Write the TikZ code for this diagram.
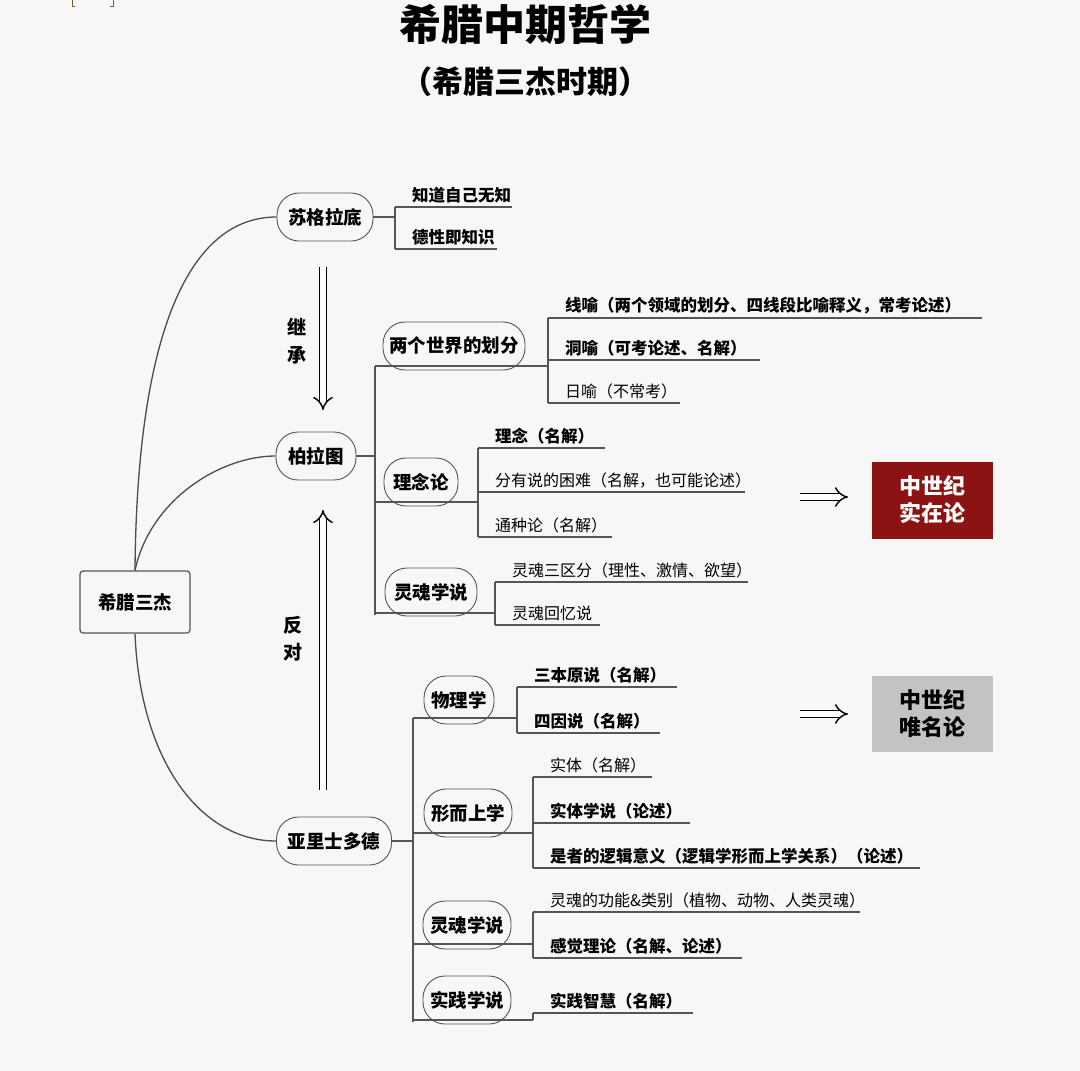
\documentclass[tikz,border=0pt]{standalone}
\usepackage{fontspec}
\setmainfont{Noto Sans CJK SC}
\usetikzlibrary{arrows.meta}
\definecolor{bg}{HTML}{F7F7F7}
\definecolor{ln}{HTML}{555555}
\definecolor{dred}{HTML}{8C1313}
\definecolor{gbox}{HTML}{C3C3C3}
\tikzset{
  pill/.style={draw=ln, line width=0.9pt, rounded corners=22pt, minimum height=48pt, font=\fontsize{18.5}{18}\selectfont\bfseries, inner xsep=6pt},
  br/.style={draw=ln, line width=1.1pt},
  lf/.style={anchor=south west, inner sep=1pt, font=\fontsize{16}{16}\selectfont},
  lfb/.style={lf, font=\fontsize{16.5}{16}\selectfont\bfseries},
  curve/.style={draw=ln!90!black, line width=1.3pt},
  dbl/.style={draw=black, double=white, double distance=5.5pt, line width=1.4pt, -{Implies[length=7pt,width=13pt]}},
  vt/.style={font=\fontsize{19}{19}\selectfont\bfseries},
}
\newcommand{\leafline}[5]{% bracket x, y, xend, style, text
  \draw[br] (#1,#2) -- (#3,#2);
  \node[#4] at (#1+16,#2-3) {#5};}
\begin{document}
\begin{tikzpicture}[x=1pt,y=-1pt]
\fill[bg] (0,0) rectangle (1080,1071);
\useasboundingbox (0,0) rectangle (1080,1071);
% corner marks
\draw[brown!70!black, line width=1pt] (72,0) -- (72,6) -- (75,6) (113,0) -- (113,6) -- (110,6);
% titles
\node (title) at (525,24) {\fontsize{42}{42}\selectfont\bfseries 希腊中期哲学};
\node (sub) at (525,82) {\fontsize{31}{31}\selectfont\bfseries （希腊三杰时期）};
% root
\node[draw=ln, line width=1.2pt, rounded corners=3pt, minimum width=110pt, minimum height=62pt, font=\fontsize{18.5}{18}\selectfont\bfseries] (root) at (135,602) {希腊三杰};
% level 1
\node[pill, minimum width=96pt] (soc) at (325,217) {苏格拉底};
\node[pill, minimum width=80pt] (pla) at (316,456) {柏拉图};
\node[pill, minimum width=115pt] (ari) at (334,841) {亚里士多德};
\draw[curve] (root.north) .. controls (137,330) and (190,217) .. (soc.west);
\draw[curve] (root.north) .. controls (150,500) and (220,456) .. (pla.west);
\draw[curve] (root.south) .. controls (140,760) and (200,841) .. (ari.west);
% inheritance arrows
\draw[dbl] (323,267) -- (323,410);
\node[vt] (j1) at (297,327) {继};
\node[vt] (j2) at (297,355) {承};
\draw[dbl] (323,790) -- (323,510);
\node[vt] (f1) at (293,625) {反};
\node[vt] (f2) at (293,652) {对};
% Socrates
\draw[br] (soc.east) -- (395,217);
\draw[br] (395,207) -- (395,249);
\leafline{395}{207}{512}{lfb}{知道自己无知}
\leafline{395}{249}{497}{lfb}{德性即知识}
% Plato
\draw[br] (pla.east) -- (375,456);
\draw[br] (375,366) -- (375,615);
\node[pill, minimum width=142pt] (p1) at (454,346) {两个世界的划分};
\node[pill, minimum width=74pt] (p2) at (421,482) {理念论};
\node[pill, minimum width=92pt] (p3) at (431,592) {灵魂学说};
\draw[br] (375,366) -- (548,366); \draw[br] (548,318) -- (548,403);
\leafline{548}{318}{982}{lfb}{线喻（两个领域的划分、四线段比喻释义，常考论述）}
\leafline{548}{360}{760}{lfb}{洞喻（可考论述、名解）}
\leafline{548}{403}{680}{lf}{日喻（不常考）}
\draw[br] (375,502) -- (478,502); \draw[br] (478,448) -- (478,537);
\leafline{478}{448}{605}{lfb}{理念（名解）}
\leafline{478}{492}{745}{lf}{分有说的困难（名解，也可能论述）}
\leafline{478}{537}{612}{lf}{通种论（名解）}
\draw[br] (375,613) -- (495,613); \draw[br] (495,582) -- (495,625);
\leafline{495}{582}{748}{lf}{灵魂三区分（理性、激情、欲望）}
\leafline{495}{625}{600}{lf}{灵魂回忆说}
% Aristotle
\draw[br] (ari.east) -- (413,841);
\draw[br] (413,718) -- (413,1022);
\node[pill, minimum width=70pt] (a1) at (459,700) {物理学};
\node[pill, minimum width=88pt] (a2) at (468,813) {形而上学};
\node[pill, minimum width=88pt] (a3) at (467,925) {灵魂学说};
\node[pill, minimum width=88pt] (a4) at (467,1000) {实践学说};
\draw[br] (413,718) -- (517,718); \draw[br] (517,687) -- (517,733);
\leafline{517}{687}{677}{lfb}{三本原说（名解）}
\leafline{517}{733}{660}{lfb}{四因说（名解）}
\draw[br] (413,833) -- (533,833); \draw[br] (533,777) -- (533,868);
\leafline{533}{777}{652}{lf}{实体（名解）}
\leafline{533}{823}{690}{lfb}{实体学说（论述）}
\leafline{533}{868}{920}{lfb}{是者的逻辑意义（逻辑学形而上学关系）（论述）}
\draw[br] (413,944) -- (533,944); \draw[br] (533,912) -- (533,958);
\leafline{533}{912}{860}{lf}{灵魂的功能\&类别（植物、动物、人类灵魂）}
\leafline{533}{958}{742}{lfb}{感觉理论（名解、论述）}
\draw[br] (413,1020) -- (533,1020);
\leafline{533}{1013}{693}{lfb}{实践智慧（名解）}
\draw[br] (533,1013) -- (533,1020);
% boxes
\node[fill=dred, text=white, minimum width=121pt, minimum height=77pt, align=center, font=\fontsize{22}{27}\selectfont\bfseries] (real) at (932,500) {中世纪\\实在论};
\node[fill=gbox, text=black, minimum width=121pt, minimum height=76pt, align=center, font=\fontsize{22}{27}\selectfont\bfseries] (nom) at (932,714) {中世纪\\唯名论};
\coordinate (r1) at (800,497); \coordinate (r2) at (848,497);
\coordinate (n1) at (800,714); \coordinate (n2) at (848,714);
\draw[dbl] (r1) -- (r2);
\draw[dbl] (n1) -- (n2);
\end{tikzpicture}
\end{document}
